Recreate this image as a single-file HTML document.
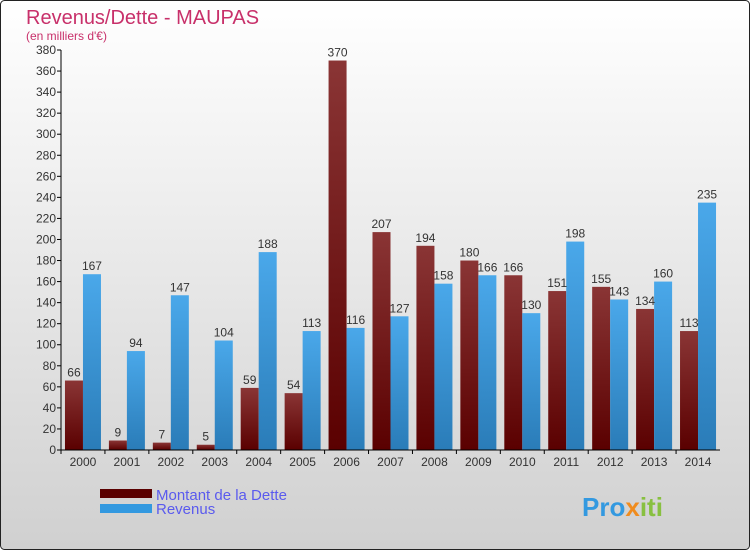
<!DOCTYPE html>
<html><head><meta charset="utf-8"><style>
body{margin:0}
svg text{font-family:"Liberation Sans",sans-serif}
</style></head><body>
<svg id="c" width="750" height="550" xmlns="http://www.w3.org/2000/svg">
<defs>
<linearGradient id="bg" x1="0" y1="0" x2="0" y2="1"><stop offset="0" stop-color="#ffffff"/><stop offset="1" stop-color="#d0d0d0"/></linearGradient>
<linearGradient id="gd" x1="0" y1="0" x2="0" y2="1"><stop offset="0" stop-color="#8a3535"/><stop offset="1" stop-color="#5a0000"/></linearGradient>
<linearGradient id="gr" x1="0" y1="0" x2="0" y2="1"><stop offset="0" stop-color="#4aa8ea"/><stop offset="1" stop-color="#2a7cb8"/></linearGradient>
</defs>
<rect x="0.5" y="0.5" width="749" height="549" rx="4" fill="url(#bg)" stroke="#222"/>
<text x="26" y="24" font-size="20" fill="#c8306a">Revenus/Dette - MAUPAS</text>
<text x="26" y="40" font-size="12" fill="#c8306a">(en milliers d'€)</text>
<g id="plot"></g>
<rect x="100" y="489" width="52" height="9" fill="#5a0000"/>
<text x="156" y="500" font-size="15" fill="#5a5aee">Montant de la Dette</text>
<rect x="100" y="504" width="52" height="9" fill="#3399e0"/>
<text x="156" y="514" font-size="15" fill="#5a5aee">Revenus</text>
<text x="582" y="516" font-size="26" font-weight="bold" fill="#3399e0">Pro<tspan fill="#f08c1e">x</tspan><tspan fill="#88c040">iti</tspan></text>
</svg>
<script>
const years=["2000","2001","2002","2003","2004","2005","2006","2007","2008","2009","2010","2011","2012","2013","2014"];
const dette=[66,9,7,5,59,54,370,207,194,180,166,151,155,134,113];
const revenus=[167,94,147,104,188,113,116,127,158,166,130,198,143,160,235];
const yTicks=[0,20,40,60,80,100,120,140,160,180,200,220,240,260,280,300,320,340,360,380];
const NS="http://www.w3.org/2000/svg";
const g=document.getElementById('plot');
const x0=61,x1=720,y0=450,yTop=50,yMax=380;
const bw=(x1-x0)/years.length;
const Y=v=>y0-(v/yMax)*(y0-yTop);
const X=i=>x0+i*bw;
function mk(t,a){const e=document.createElementNS(NS,t);for(const k in a)e.setAttribute(k,a[k]);g.appendChild(e);return e;}
yTicks.forEach(v=>{
 const l=mk('line',{x1:x0-4,x2:x0,y1:Y(v),y2:Y(v),stroke:'#000'});
 
 
 const t=mk('text',{x:x0-5,y:Y(v)+4,'font-size':12,'text-anchor':'end',fill:'#333'});
 t.textContent=v;
 
 
});
years.forEach((yr,i)=>{
 const cx=X(i)+bw/2;
 const d=mk('rect',{x:cx-18,y:Y(dette[i]),width:18,height:y0-Y(dette[i]),fill:'url(#gd)'});
 
 
 const r=mk('rect',{x:cx,y:Y(revenus[i]),width:18,height:y0-Y(revenus[i]),fill:'url(#gr)'});
 
 
 const td=mk('text',{x:cx-9,y:Y(dette[i])-4,'font-size':12,'text-anchor':'middle',fill:'#333'});
 td.textContent=dette[i];
 
 
 const tr=mk('text',{x:cx+9,y:Y(revenus[i])-4,'font-size':12,'text-anchor':'middle',fill:'#333'});
 tr.textContent=revenus[i];
 
 
 const tk=mk('line',{x1:X(i),x2:X(i),y1:y0,y2:y0+4,stroke:'#000'});
 
 
 const xl=mk('text',{x:cx,y:y0+16,'font-size':12,'text-anchor':'middle',fill:'#333'});
 xl.textContent=yr;
 
 
});
const ax=mk('line',{x1:x0,x2:x0,y1:yTop,y2:y0,stroke:'#000'});


const bx=mk('line',{x1:x0,x2:x1,y1:y0,y2:y0,stroke:'#000'});


</script>
</body></html>
